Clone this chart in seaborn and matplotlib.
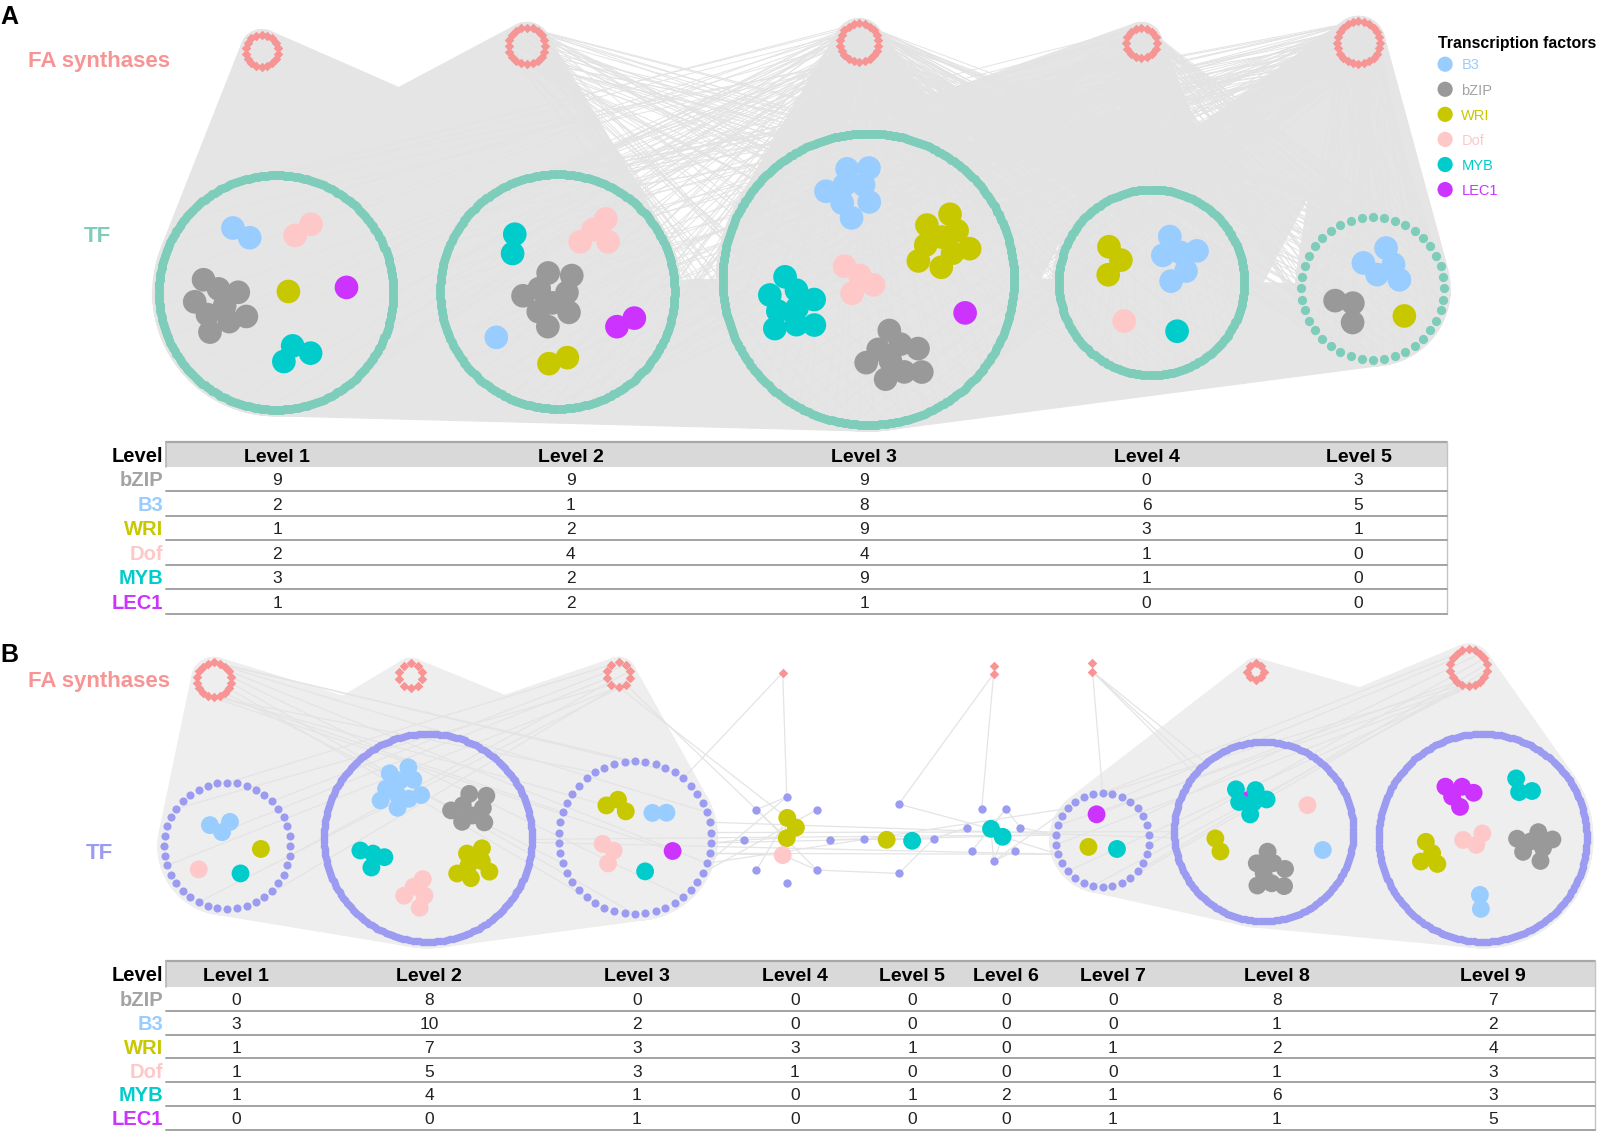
import numpy as np
import pandas as pd
import matplotlib
matplotlib.use('Agg')
import matplotlib.pyplot as plt
import seaborn as sns
from matplotlib import font_manager
from matplotlib.collections import LineCollection
from matplotlib.patches import Polygon, Rectangle

## Data: number of TFs of each family found in every level (the tables)
families = ['bZIP', 'B3', 'WRI', 'Dof', 'MYB', 'LEC1']
legend_order = ['B3', 'bZIP', 'WRI', 'Dof', 'MYB', 'LEC1']

levels_a = ['Level 1', 'Level 2', 'Level 3', 'Level 4', 'Level 5']
bzip_a = [9, 9, 9, 0, 3]
b3_a = [2, 1, 8, 6, 5]
wri_a = [1, 2, 9, 3, 1]
dof_a = [2, 4, 4, 1, 0]
myb_a = [3, 2, 9, 1, 0]
lec1_a = [1, 2, 1, 0, 0]

levels_b = ['Level 1', 'Level 2', 'Level 3', 'Level 4', 'Level 5',
            'Level 6', 'Level 7', 'Level 8', 'Level 9']
bzip_b = [0, 8, 0, 0, 0, 0, 0, 8, 7]
b3_b = [3, 10, 2, 0, 0, 0, 0, 1, 2]
wri_b = [1, 7, 3, 3, 1, 0, 1, 2, 4]
dof_b = [1, 5, 3, 1, 0, 0, 0, 1, 3]
myb_b = [1, 4, 1, 0, 1, 2, 1, 6, 3]
lec1_b = [0, 0, 1, 0, 0, 0, 1, 1, 5]

# FA synthase nodes per module and remaining TF nodes per level (estimated)
fa_a = [18, 20, 22, 16, 24]
other_tf_a = [240, 240, 300, 190, 40]
fa_b = [18, 10, 10, 1, 2, 2, 8, 18]
other_tf_b = [40, 210, 46, 8, 4, 7, 30, 180, 210]

counts_a = dict(zip(families, [bzip_a, b3_a, wri_a, dof_a, myb_a, lec1_a]))
counts_b = dict(zip(families, [bzip_b, b3_b, wri_b, dof_b, myb_b, lec1_b]))

## Layout (figure units, y pointing down)
W, H = 1569, 1116.6
fam_colors = {'B3': '#99CCFF', 'bZIP': '#999999', 'WRI': '#C8C800',
              'Dof': '#FFC8C8', 'MYB': '#00CCCC', 'LEC1': '#CC33FF'}
label_colors = dict(fam_colors, bZIP='#A3A3A3')
FA_COL = '#F79494'
TF_COL_A = '#7DCDBA'
TF_COL_B = '#9B9BF2'
draw_order = ['LEC1', 'bZIP', 'B3', 'WRI', 'Dof', 'MYB']

fa_lay_a = [(257, 50, 16), (517, 45, 18), (843, 42, 19), (1120, 42, 15), (1333, 42, 21)]
tf_lay_a = [(271, 287, 115), (547, 286, 115), (852, 274, 143), (1130, 277, 91), (1347, 283, 70)]
phase_a = [-90] * 5
off_a = {
    'B3': [(-30, -60), (-60, 45), (-17, -89), (27, -22), (13, -23)],
    'Dof': [(26, -57), (38, -54), (-14, 1), (-27, 38), (0, 0)],
    'bZIP': [(-58, 13), (-7, 4), (28, 76), (0, 0), (-23, 21)],
    'WRI': [(12, -1), (-1, 72), (73, -34), (-37, -19), (31, 27)],
    'LEC1': [(69, -5), (68, 26), (95, 33), (0, 0), (0, 0)],
    'MYB': [(21, 58), (-46, -50), (-77, 26), (25, 48), (0, 0)],
}
fa_lay_b = [(210, 667, 17), (403, 663, 12), (607, 662, 12), (768, 660, 0),
            (975, 657, 4), (1072, 655, 4), (1232, 659, 8), (1441, 655, 18)]
tf_lay_b = [(223, 830, 62), (420, 822, 102), (623, 822, 75), (772, 824, 42), (882, 823, 34),
            (975, 818, 27), (1082, 824, 46), (1240, 816, 88), (1455, 822, 102)]
phase_b = [-90, -90, -90, -90, -90, 90, -90, -90, -90]
off_b = {
    'B3': [(-8, -18), (-27, -47), (22, -22), (0, 0), (0, 0), (0, 0), (0, 0), (58, 18), (-5, 61)],
    'bZIP': [(0, 0), (42, -27), (0, 0), (0, 0), (0, 0), (0, 0), (0, 0), (5, 39), (50, 8)],
    'WRI': [(33, 3), (45, 28), (-16, -32), (4, -10), (-12, 1), (0, 0), (-14, 7), (-48, 12), (-55, 16)],
    'Dof': [(-28, 23), (-12, 53), (-25, 16), (-4, 15), (0, 0), (0, 0), (0, 0), (43, -26), (-10, 3)],
    'MYB': [(13, 27), (-57, 20), (10, 33), (0, 0), (13, 2), (0, 0), (14, 9), (-15, -31), (37, -50)],
    'LEC1': [(0, 0), (0, 0), (37, 13), (0, 0), (0, 0), (0, 0), (-6, -25), (-15, -31), (-25, -42)],
}

cols_a = [272, 560, 848, 1125, 1333]
cols_b = [232, 421, 625, 780, 895, 987, 1092, 1253, 1465]


def ring_xy(cx, cy, r, n, phase=-90, span=360):
    if n == 1 or r == 0:
        return np.array([[cx, cy]] * n, dtype=float)
    if span == 360:
        t = np.deg2rad(phase) + 2 * np.pi * np.arange(n) / n
    else:
        t = np.deg2rad(phase) + np.deg2rad(span) * np.arange(n) / (n - 1)
    return np.c_[cx + r * np.cos(t), cy + r * np.sin(t)]


def cluster_xy(cx, cy, n, c, phase):
    if n == 0:
        return np.zeros((0, 2))
    if n == 1:
        return np.array([[cx, cy]])
    k = np.arange(n)
    r = c * np.sqrt(k + 0.5)
    t = k * 2.39996 + phase
    return np.c_[cx + r * np.cos(t), cy + r * np.sin(t)]


def hull(points):
    pts = sorted(map(tuple, np.round(points, 3)))

    def cross(o, a, b):
        return (a[0] - o[0]) * (b[1] - o[1]) - (a[1] - o[1]) * (b[0] - o[0])
    lower, upper = [], []
    for p in pts:
        while len(lower) >= 2 and cross(lower[-2], lower[-1], p) <= 0:
            lower.pop()
        lower.append(p)
    for p in reversed(pts):
        while len(upper) >= 2 and cross(upper[-2], upper[-1], p) <= 0:
            upper.pop()
        upper.append(p)
    return np.array(lower[:-1] + upper[:-1])


def build(fa_n, fa_lay, other_n, tf_lay, phases, counts, offsets, spacing):
    fa_nodes = [ring_xy(x, y, r, n) for (x, y, r), n in zip(fa_lay, fa_n)]
    ring_nodes = [ring_xy(x, y, r, n, ph) for (x, y, r), n, ph in zip(tf_lay, other_n, phases)]
    rows = []
    for fam in draw_order:
        f_i = families.index(fam)
        for j, n in enumerate(counts[fam]):
            cx = tf_lay[j][0] + offsets[fam][j][0]
            cy = tf_lay[j][1] + offsets[fam][j][1]
            for px, py in cluster_xy(cx, cy, n, spacing, phase=j * 1.3 + f_i):
                rows.append(dict(level=j, family=fam, x=px, y=py))
    clusters = pd.DataFrame(rows)
    level_nodes = [np.vstack([ring_nodes[j], clusters.loc[clusters.level == j, ['x', 'y']].to_numpy()])
                   for j in range(len(tf_lay))]
    return fa_nodes, ring_nodes, clusters, level_nodes


def spread_links(P, Q, n):
    i = np.arange(n)
    a = P[i % len(P)]
    b = Q[((i * 97) % n) * len(Q) // n]
    return np.stack([a, b], axis=1)


def near_links(P, Q, n):
    p_ord = np.argsort(((P - Q.mean(0)) ** 2).sum(1))
    q_ord = np.argsort(((Q - P.mean(0)) ** 2).sum(1))
    i = np.arange(n)
    a = P[p_ord[(i * 2) % len(P)]]
    b = Q[q_ord[(i * 3) % len(Q)]]
    return np.stack([a, b], axis=1)


def fill_hull(ax, pts, color):
    h = hull(pts)
    ax.add_patch(Polygon(h, closed=True, fc=color, ec=color, lw=0.8, zorder=1))


def txt(ax, x, yc, s, size, **kw):
    # place text so that its cap height is centred on yc
    kw.setdefault('zorder', 8)
    ax.text(x, yc + 0.488 * size, s, fontsize=size, va='baseline', **kw)


sns.set_style('white')
plt.rcParams['font.family'] = ['Liberation Sans', 'DejaVu Sans']
avail = {f.name for f in font_manager.fontManager.ttflist}
NARROW = 'Liberation Sans Narrow' if 'Liberation Sans Narrow' in avail else 'Liberation Sans'
num_size = 14 if NARROW == 'Liberation Sans Narrow' else 12.5

fig = plt.figure(figsize=(15.99, 11.38), dpi=100)
ax = fig.add_axes([0, 0, 1, 1])


def draw_network(ax, fa_nodes, ring_nodes, clusters, level_nodes, fa_lay, tf_lay,
                 dense_fa, dense_tf, sparse, fill_col, line_col, line_w,
                 tf_col, ring_sizes, node_s):
    for i, j in dense_fa:
        fx, fy, fr = fa_lay[i]
        tx, ty, tr = tf_lay[j]
        fill_hull(ax, np.vstack([ring_xy(fx, fy, fr + 5, 64), ring_xy(tx, ty, tr + 6, 64)]), fill_col)
    # TF-TF links fill the space between the circles below their centres
    for i, j in dense_tf:
        (x1, y1, r1), (x2, y2, r2) = tf_lay[i], tf_lay[j]
        fill_hull(ax, np.vstack([ring_xy(x1, y1, r1 + 6, 40, 0, 180),
                                 ring_xy(x2, y2, r2 + 6, 40, 0, 180)]), fill_col)
    segs = []
    for kind, i, j, n, mode in sparse:
        P = fa_nodes[i] if kind == 'fa' else level_nodes[i]
        Q = level_nodes[j]
        segs.append(spread_links(P, Q, n) if mode == 'spread' else near_links(P, Q, n))
    if segs:
        ax.add_collection(LineCollection(np.concatenate(segs), colors=line_col,
                                         linewidths=line_w, zorder=2))

    fa_df = pd.DataFrame(np.vstack(fa_nodes), columns=['x', 'y'])
    sns.scatterplot(data=fa_df, x='x', y='y', marker='D', color=FA_COL, s=24,
                    linewidth=0, ax=ax, zorder=3, legend=False)
    for nodes, s in zip(ring_nodes, ring_sizes):
        rdf = pd.DataFrame(nodes, columns=['x', 'y'])
        sns.scatterplot(data=rdf, x='x', y='y', color=tf_col, s=s,
                        linewidth=0, ax=ax, zorder=3, legend=False)
    sns.scatterplot(data=clusters, x='x', y='y', hue='family', palette=fam_colors,
                    s=node_s, linewidth=0, ax=ax, zorder=4, legend=False)


## Panel A network
fa_n_a, ring_n_a, clus_a, lvl_a = build(fa_a, fa_lay_a, other_tf_a, tf_lay_a, phase_a,
                                        counts_a, off_a, 10.5)
dense_fa_a = [(0, 0), (0, 1), (1, 0), (1, 1), (2, 2), (3, 3), (4, 4), (3, 2), (4, 3)]
dense_tf_a = [(i, j) for i in range(5) for j in range(i + 1, 5)]
sparse_a = [('fa', 1, 2, 40, 'spread'), ('fa', 1, 3, 15, 'spread'),
            ('fa', 2, 0, 25, 'spread'), ('fa', 2, 1, 40, 'spread'),
            ('fa', 2, 3, 60, 'spread'), ('fa', 2, 4, 50, 'spread'),
            ('fa', 3, 1, 30, 'spread'), ('fa', 3, 4, 50, 'spread'),
            ('fa', 4, 2, 70, 'spread'), ('fa', 4, 1, 25, 'spread'),
            ('fa', 2, 2, 80, 'spread'), ('fa', 3, 3, 60, 'spread'), ('fa', 4, 4, 60, 'spread')]
draw_network(ax, fa_n_a, ring_n_a, clus_a, lvl_a, fa_lay_a, tf_lay_a,
             dense_fa_a, dense_tf_a, sparse_a, '#E5E5E5', '#E3E3E3', 0.7,
             TF_COL_A, [42, 42, 42, 42, 44], 290)

## Panel B network
fa_n_b, ring_n_b, clus_b, lvl_b = build(fa_b, fa_lay_b, other_tf_b, tf_lay_b, phase_b,
                                        counts_b, off_b, 7.6)
dense_fa_b = [(0, 0), (0, 1), (1, 0), (1, 1), (1, 2), (2, 1), (2, 2),
              (6, 6), (6, 7), (6, 8), (7, 7), (7, 8)]
dense_tf_b = [(0, 1), (1, 2), (0, 2), (6, 7), (7, 8), (6, 8)]
sparse_b = [('fa', 0, 2, 12, 'spread'), ('fa', 2, 0, 8, 'spread'), ('fa', 2, 3, 2, 'near'),
            ('fa', 3, 2, 1, 'near'), ('fa', 3, 3, 1, 'near'), ('fa', 4, 4, 1, 'near'),
            ('fa', 4, 5, 1, 'near'), ('fa', 5, 6, 1, 'near'), ('fa', 5, 7, 3, 'near'),
            ('fa', 7, 6, 12, 'spread'),
            ('tf', 2, 3, 4, 'near'), ('tf', 3, 4, 2, 'near'), ('tf', 4, 5, 2, 'near'),
            ('tf', 5, 6, 3, 'near'), ('tf', 2, 6, 3, 'near'), ('tf', 1, 6, 2, 'near'),
            ('tf', 2, 7, 2, 'near')]
for j in (3, 4, 5):
    sparse_b.append(('tf', j, j, other_tf_b[j], 'near'))
draw_network(ax, fa_n_b, ring_n_b, clus_b, lvl_b, fa_lay_b, tf_lay_b,
             dense_fa_b, dense_tf_b, sparse_b, '#EEEEEE', '#E4E4E4', 0.9,
             TF_COL_B, [34, 30, 34, 36, 36, 36, 34, 30, 30], 165)

## Labels
txt(ax, 0, 15, 'A', 18, fontweight='bold', color='black')
txt(ax, 0, 641, 'B', 18, fontweight='bold', color='black')
txt(ax, 27, 58, 'FA synthases', 16, fontweight='bold', color=FA_COL)
txt(ax, 27, 666, 'FA synthases', 16, fontweight='bold', color=FA_COL)
txt(ax, 82, 230, 'TF', 16, fontweight='bold', color=TF_COL_A)
txt(ax, 84, 835, 'TF', 16, fontweight='bold', color=TF_COL_B)

# legend
txt(ax, 1411, 42, 'Transcription factors', 11.4, fontweight='bold', color='black')
leg = pd.DataFrame({'family': legend_order,
                    'x': [1418] * 6,
                    'y': [63 + 24.6 * k for k in range(6)]})
sns.scatterplot(data=leg, x='x', y='y', hue='family', palette=fam_colors, s=120,
                linewidth=0, ax=ax, zorder=5, legend=False)
for fam, y in zip(leg.family, leg.y):
    txt(ax, 1434, y, fam, 10.5, color=label_colors[fam])


## Tables
def draw_table(ax, x0, x1, y_head, row_y, col_x, levels, counts):
    top, h_bot = y_head - 12.5, y_head + 12.5
    step = row_y[1] - row_y[0]
    bottom = row_y[-1] + step / 2
    ax.add_patch(Rectangle((x0, top), x1 - x0, h_bot - top, fc='#D9D9D9', ec='none', zorder=5))
    ax.plot([x0, x1], [top, top], color='#A8A8A8', lw=1.6, zorder=6)
    ax.plot([x0, x0], [top, h_bot], color='#B5B5B5', lw=1.2, zorder=6)
    ax.plot([x1, x1], [top, bottom], color='#C4C4C4', lw=1.0, zorder=6)
    for y in [r + step / 2 for r in row_y]:
        ax.plot([x0, x1], [y, y], color='#A3A3A3', lw=1.4, zorder=6)
    txt(ax, 160, y_head, 'Level', 14.5, fontweight='bold', color='black', ha='right')
    for lvl, x in zip(levels, col_x):
        txt(ax, x, y_head, lvl, 14, fontweight='bold', color='black', ha='center')
    for fam, y in zip(families, row_y):
        txt(ax, 160, y, fam, 14.5, fontweight='bold', color=label_colors[fam], ha='right')
        for x, v in zip(col_x, counts[fam]):
            txt(ax, x, y, str(v), num_size, color='#222222', ha='center', family=NARROW)


draw_table(ax, 163, 1420, 446, [470 + 24 * k for k in range(6)], cols_a, levels_a, counts_a)
draw_table(ax, 163, 1565, 955.5, [980 + 23.4 * k for k in range(6)], cols_b, levels_b, counts_b)

ax.set_xlim(0, W)
ax.set_ylim(H, 0)
ax.axis('off')
fig.savefig('out.png', dpi=100)
